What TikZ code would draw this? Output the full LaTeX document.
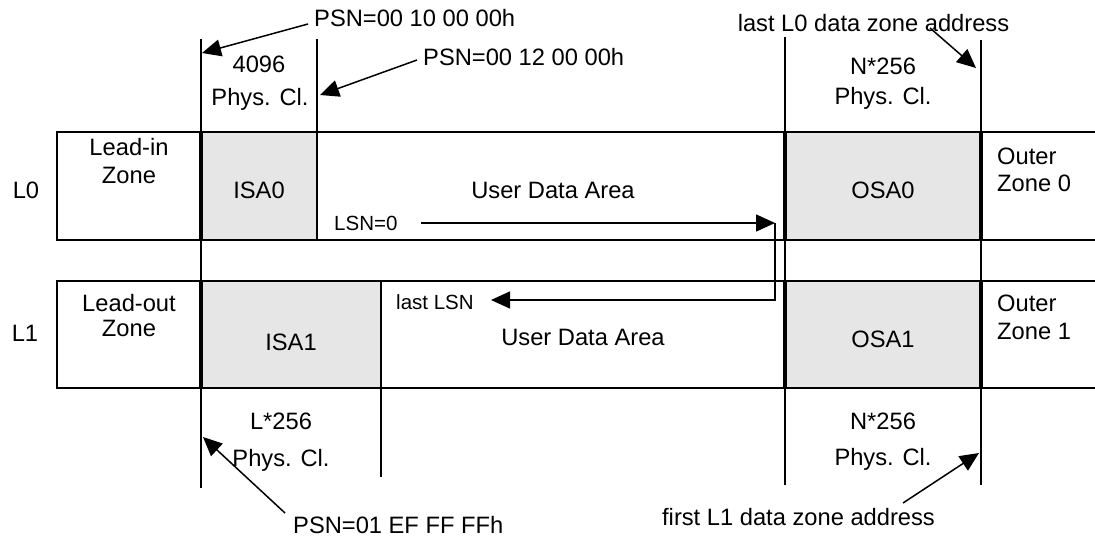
\documentclass[tikz,border=0pt]{standalone}
\usepackage{fontspec}
\setmainfont{Liberation Sans}
\usetikzlibrary{arrows.meta}
\definecolor{zonegray}{RGB}{230,230,230}
\begin{document}
\begin{tikzpicture}[x=1pt,y=-1pt,
  txt/.style={anchor=base,inner sep=0pt,font=\fontsize{23.7}{28}\selectfont},
  txtl/.style={txt,anchor=base west},
  small/.style={anchor=base west,inner sep=0pt,font=\fontsize{20.5}{24}\selectfont},
  boxline/.style={line width=2.6pt},
  thickline/.style={line width=3.4pt},
  midline/.style={line width=2pt},
  dimline/.style={line width=1.6pt},
  ptr/.style={line width=1.5pt,-{Triangle[length=19pt,width=17pt]}},
]
\useasboundingbox (0,0) rectangle (1095,538);

% grey spare areas
\fill[zonegray] (201,132) rectangle (317,240);
\fill[zonegray] (785,132) rectangle (981,240);
\fill[zonegray] (201,281) rectangle (381,388);
\fill[zonegray] (785,281) rectangle (981,388);

% dimension / boundary lines
\draw[dimline] (201,39) -- (201,488);
\draw[dimline] (317,39) -- (317,132);
\draw[dimline] (785,37) -- (785,485);
\draw[dimline] (981,40) -- (981,485);
\draw[dimline] (381,388) -- (381,477);

% rows
\draw[boxline] (1095,132) -- (57,132) -- (57,240) -- (1095,240);
\draw[boxline] (1095,281) -- (57,281) -- (57,388) -- (1095,388);

% zone separators inside rows
\draw[thickline] (201,132) -- (201,240);
\draw[midline] (317,132) -- (317,240);
\draw[thickline] (785,132) -- (785,240);
\draw[thickline] (981,132) -- (981,240);
\draw[thickline] (201,281) -- (201,388);
\draw[midline] (381,281) -- (381,388);
\draw[thickline] (785,281) -- (785,388);
\draw[thickline] (981,281) -- (981,388);

% row labels
\node[txt] (l0) at (26,198) {L0};
\node[txt] (l1) at (25,341) {L1};

% L0 texts
\node[txt] (leadin1) at (129,155.5) {Lead-in};
\node[txt] (leadin2) at (129,183) {Zone};
\node[txt] (isa0) at (259,198) {ISA0};
\node[txt] (uda0) at (553,198) {User Data Area};
\node[txt] (osa0) at (883,198.5) {OSA0};
\node[txtl] (outer0a) at (997,164) {Outer};
\node[txtl] (outer0b) at (997,191.5) {Zone 0};
\node[small] (lsn0) at (334,230) {LSN=0};

% L1 texts
\node[txt] (leadout1) at (129,311.5) {Lead-out};
\node[txt] (leadout2) at (129,336.5) {Zone};
\node[txt] (isa1) at (291,350) {ISA1};
\node[txt] (uda1) at (583,345) {User Data Area};
\node[txt] (osa1) at (883,347) {OSA1};
\node[txtl] (outer1a) at (997,311.5) {Outer};
\node[txtl] (outer1b) at (997,339) {Zone 1};
\node[small] (lastlsn) at (396,309) {last LSN};

% top labels
\node[txtl] (psn1) at (314,26) {PSN=00 10 00 00h};
\node[txtl] (psn2) at (423,65) {PSN=00 12 00 00h};
\node[txt] (lastl0) at (873.5,31.5) {last L0 data zone address};
\node[txt] (c4096) at (259,72.5) {4096};
\node[txt] (phys1) at (260,105) {Phys. Cl.};
\node[txt] (n256a) at (883,74) {N*256};
\node[txt] (phys2) at (883,104) {Phys. Cl.};

% bottom labels
\node[txt] (l256) at (281,429) {L*256};
\node[txt] (phys3) at (281,466) {Phys. Cl.};
\node[txt] (n256b) at (883,429) {N*256};
\node[txt] (phys4) at (883,465) {Phys. Cl.};
\node[txtl] (psn3) at (293,533) {PSN=01 EF FF FFh};
\node[txt] (firstl1) at (798.5,525) {first L1 data zone address};

% pointer coordinates
\coordinate (a1s) at (308,24);  \coordinate (a1t) at (202,53);
\coordinate (a2s) at (417,60);  \coordinate (a2t) at (320,95);
\coordinate (a3s) at (930,28);  \coordinate (a3t) at (976,68);
\coordinate (a4s) at (285,513); \coordinate (a4t) at (203,437);
\coordinate (a5s) at (903,503); \coordinate (a5t) at (979,453);
\coordinate (u0) at (421,223);
\coordinate (turn) at (775,223);
\coordinate (corner) at (775,300);
\coordinate (u1) at (491,300);

\draw[ptr] (a1s) -- (a1t);
\draw[ptr] (a2s) -- (a2t);
\draw[ptr] (a3s) -- (a3t);
\draw[ptr] (a4s) -- (a4t);
\draw[ptr] (a5s) -- (a5t);
\draw[ptr] (u0) -- (turn);
\draw[ptr] (turn) -- (corner) -- (u1);
\end{tikzpicture}
\end{document}
